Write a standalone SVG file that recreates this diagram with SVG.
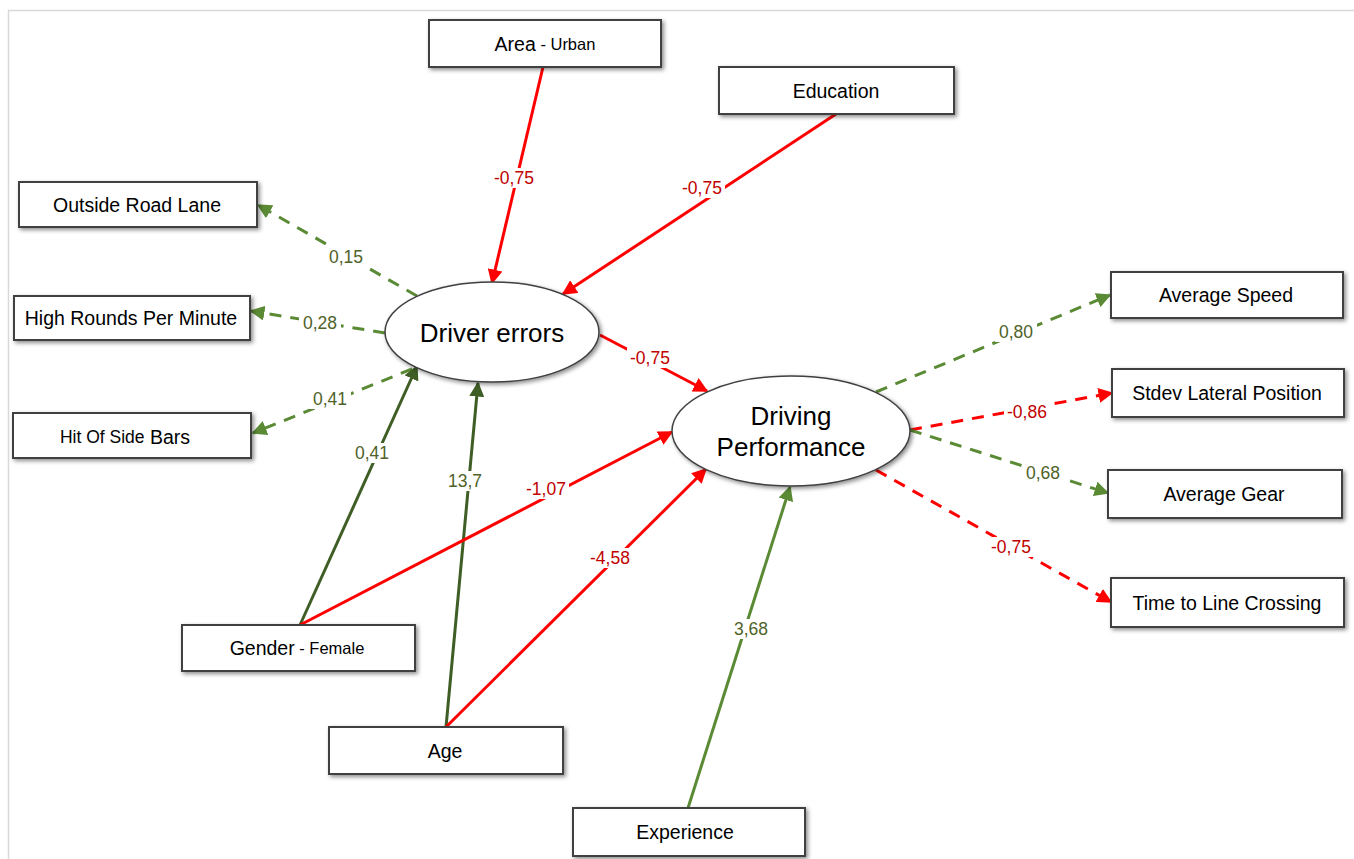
<svg xmlns="http://www.w3.org/2000/svg" width="1354" height="859" viewBox="0 0 1354 859">
<style>
.box{fill:#fff;stroke:#404040;stroke-width:2;filter:url(#sh)}
.ell{fill:#fff;stroke:#404040;stroke-width:1.5;filter:url(#sh)}
.t{font-family:"Liberation Sans",Arial,sans-serif;font-size:19.5px;fill:#000;text-anchor:middle;dominant-baseline:central}
.et{font-family:"Liberation Sans",Arial,sans-serif;font-size:26px;fill:#000;text-anchor:middle}
.lb{font-family:"Liberation Sans",Arial,sans-serif;font-size:17.5px;text-anchor:middle;dominant-baseline:central}
.bg{fill:#fff}
.lr{fill:#c00000}
.lg{fill:#4f6228}
.red{stroke:#ff0000;stroke-width:3;fill:none;marker-end:url(#ar)}
.rdd{stroke:#ff0000;stroke-width:3;fill:none;stroke-dasharray:12 9;marker-end:url(#ar)}
.gdd{stroke:#5b8a35;stroke-width:3;fill:none;stroke-dasharray:12 9;marker-end:url(#ag)}
.gs{stroke:#5b8a35;stroke-width:3;fill:none;marker-end:url(#ag)}
.dg{stroke:#3f5e26;stroke-width:3;fill:none;marker-end:url(#ad)}
</style>
<defs>
<filter id="sh" x="-10%" y="-20%" width="125%" height="150%">
<feDropShadow dx="2" dy="2" stdDeviation="2" flood-color="#000" flood-opacity="0.45"/>
</filter>
<marker id="ar" viewBox="0 0 10 10" refX="9" refY="5" markerWidth="5" markerHeight="5" orient="auto" markerUnits="strokeWidth"><path d="M0,0 L10,5 L0,10 z" fill="#ff0000"/></marker>
<marker id="ag" viewBox="0 0 10 10" refX="9" refY="5" markerWidth="5" markerHeight="5" orient="auto" markerUnits="strokeWidth"><path d="M0,0 L10,5 L0,10 z" fill="#5b8a35"/></marker>
<marker id="ad" viewBox="0 0 10 10" refX="9" refY="5" markerWidth="5" markerHeight="5" orient="auto" markerUnits="strokeWidth"><path d="M0,0 L10,5 L0,10 z" fill="#3f5e26"/></marker>
</defs>
<rect x="0" y="0" width="1354" height="859" fill="#fff"/>
<rect x="8.5" y="10.5" width="1360" height="860" fill="none" stroke="#d9d9d9" stroke-width="1.5"/>

<g id="connectors">
<line class="red" x1="543" y1="67" x2="492" y2="283"/>
<line class="red" x1="836" y1="114" x2="563" y2="294"/>
<line class="gdd" x1="417" y1="296" x2="258" y2="205"/>
<line class="gdd" x1="385" y1="333" x2="251" y2="311"/>
<line class="gdd" x1="412" y1="369" x2="253" y2="433"/>
<line class="dg" x1="300" y1="625" x2="417" y2="366"/>
<line class="dg" x1="446" y1="727" x2="478" y2="383"/>
<line class="red" x1="300" y1="625" x2="672" y2="432"/>
<line class="red" x1="446" y1="727" x2="706" y2="469"/>
<line class="gs" x1="688" y1="808" x2="790" y2="487"/>
<line class="red" x1="600" y1="335" x2="707" y2="391"/>
<line class="gdd" x1="876" y1="392" x2="1110" y2="295"/>
<line class="rdd" x1="910" y1="430" x2="1112" y2="393"/>
<line class="gdd" x1="910" y1="430" x2="1108" y2="493"/>
<line class="rdd" x1="876" y1="470" x2="1111" y2="602"/>
<rect class="bg" x="491" y="168" width="46" height="20"/>
<rect class="bg" x="679" y="178" width="46" height="20"/>
<rect class="bg" x="325" y="247" width="42" height="20"/>
<rect class="bg" x="299" y="313" width="42" height="20"/>
<rect class="bg" x="309" y="389" width="42" height="20"/>
<rect class="bg" x="351" y="443" width="42" height="20"/>
<rect class="bg" x="444" y="471" width="42" height="20"/>
<rect class="bg" x="523" y="479" width="46" height="20"/>
<rect class="bg" x="587" y="548" width="46" height="20"/>
<rect class="bg" x="730" y="619" width="42" height="20"/>
<rect class="bg" x="627" y="348" width="46" height="20"/>
<rect class="bg" x="995" y="322" width="42" height="20"/>
<rect class="bg" x="1004" y="402" width="46" height="20"/>
<rect class="bg" x="1022" y="463" width="42" height="20"/>
<rect class="bg" x="988" y="537" width="46" height="20"/>
<text class="lb lr" x="514" y="178">-0,75</text>
<text class="lb lr" x="702" y="188">-0,75</text>
<text class="lb lg" x="346" y="257">0,15</text>
<text class="lb lg" x="320" y="323">0,28</text>
<text class="lb lg" x="330" y="399">0,41</text>
<text class="lb lg" x="372" y="453">0,41</text>
<text class="lb lg" x="465" y="481">13,7</text>
<text class="lb lr" x="546" y="489">-1,07</text>
<text class="lb lr" x="610" y="558">-4,58</text>
<text class="lb lg" x="751" y="629">3,68</text>
<text class="lb lr" x="650" y="358">-0,75</text>
<text class="lb lg" x="1016" y="332">0,80</text>
<text class="lb lr" x="1027" y="412">-0,86</text>
<text class="lb lg" x="1043" y="473">0,68</text>
<text class="lb lr" x="1011" y="547">-0,75</text>
</g>

<g id="area"><rect class="box" x="429" y="20" width="232" height="47"/><text class="t" x="545" y="44">Area<tspan font-size="16.5"> - Urban</tspan></text></g>
<g id="education"><rect class="box" x="719" y="67" width="235" height="47"/><text class="t" x="836" y="91">Education</text></g>
<g id="outside-road-lane"><rect class="box" x="19" y="182" width="238" height="45"/><text class="t" x="137" y="205">Outside Road Lane</text></g>
<g id="high-rounds"><rect class="box" x="14" y="296" width="236" height="44"/><text class="t" x="131" y="318">High Rounds Per Minute</text></g>
<g id="hit-side-bars"><rect class="box" x="13" y="413" width="238" height="45"/><text class="t" x="125" y="437"><tspan font-size="17.5">Hit Of Side</tspan> Bars</text></g>
<g id="driver-errors"><ellipse class="ell" cx="492" cy="332" rx="107" ry="50"/><text class="et" x="492" y="342">Driver errors</text></g>
<g id="driving-performance"><ellipse class="ell" cx="791" cy="431" rx="119" ry="55"/><text class="et" x="791" y="425">Driving</text><text class="et" x="791" y="456">Performance</text></g>
<g id="average-speed"><rect class="box" x="1111" y="272" width="232" height="46"/><text class="t" x="1226" y="295">Average Speed</text></g>
<g id="stdev-lateral"><rect class="box" x="1112" y="369" width="232" height="48"/><text class="t" x="1227" y="393">Stdev Lateral Position</text></g>
<g id="average-gear"><rect class="box" x="1108" y="470" width="234" height="48"/><text class="t" x="1224" y="494">Average Gear</text></g>
<g id="time-line-crossing"><rect class="box" x="1111" y="578" width="233" height="49"/><text class="t" x="1227" y="603">Time to Line Crossing</text></g>
<g id="gender"><rect class="box" x="182" y="625" width="233" height="46"/><text class="t" x="297" y="648">Gender<tspan font-size="16.5"> - Female</tspan></text></g>
<g id="age"><rect class="box" x="329" y="727" width="234" height="47"/><text class="t" x="445" y="751">Age</text></g>
<g id="experience"><rect class="box" x="573" y="808" width="232" height="48"/><text class="t" x="685" y="832">Experience</text></g>
</svg>
